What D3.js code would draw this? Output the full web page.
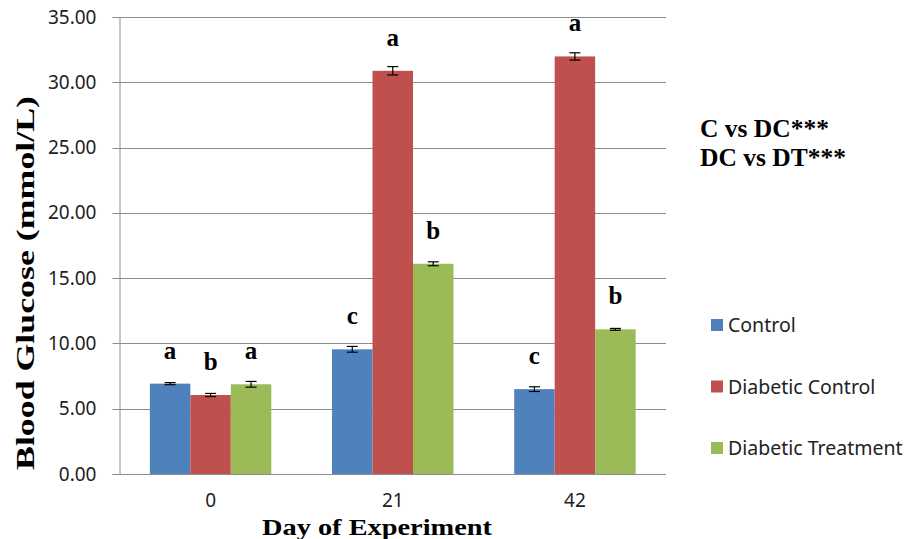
<!DOCTYPE html>
<html><head><meta charset="utf-8">
<script src="https://cdn.jsdelivr.net/npm/d3@7"></script>
<style>body{margin:0;background:#fff}svg{display:block}</style>
</head><body>
<svg id="chart" width="906" height="539"></svg>
<script>
const days = ["0", "21", "42"];
const seriesNames = ["Control", "Diabetic Control", "Diabetic Treatment"];
const colors = ["#4F81BD", "#C0504D", "#9BBB59"];
const controlVals = [6.92, 9.55, 6.50];
const diabeticControlVals = [6.05, 30.88, 31.98];
const diabeticTreatmentVals = [6.87, 16.10, 11.08];
const controlErr = [0.08, 0.22, 0.18];
const diabeticControlErr = [0.12, 0.32, 0.28];
const diabeticTreatmentErr = [0.22, 0.15, 0.07];
const controlLetters = ["a", "c", "c"];
const diabeticControlLetters = ["b", "a", "a"];
const diabeticTreatmentLetters = ["a", "b", "b"];
const yTicks = [0, 5, 10, 15, 20, 25, 30, 35];
const notes = ["C vs DC***", "DC vs DT***"];

const values = [controlVals, diabeticControlVals, diabeticTreatmentVals];
const errs = [controlErr, diabeticControlErr, diabeticTreatmentErr];
const letters = [controlLetters, diabeticControlLetters, diabeticTreatmentLetters];

const svg = d3.select("#chart");
const mLeft = 119.5, mRight = 666, mTop = 17, mBottom = 474;

const x0 = d3.scaleBand().domain(days).range([mLeft, mRight]).paddingInner(1/3).paddingOuter(1/6);
const x1 = d3.scaleBand().domain(seriesNames).range([0, x0.bandwidth()]);
const y = d3.scaleLinear().domain([0, 35]).range([mBottom, mTop]);

// gridlines
svg.append("g").selectAll("line").data(yTicks).join("line")
  .attr("x1", mLeft - 7).attr("x2", mRight)
  .attr("y1", d => Math.round(y(d)) + 0.5).attr("y2", d => Math.round(y(d)) + 0.5)
  .attr("stroke", "#8c8c8c").attr("stroke-width", 1);

// y axis
const yAxis = d3.axisLeft(y).tickValues(yTicks).tickFormat(d3.format(".2f")).tickSize(0).tickPadding(23);
const ga = svg.append("g").attr("transform", `translate(${mLeft},0)`).call(yAxis);
ga.select(".domain").attr("stroke", "#8c8c8c");
ga.selectAll("text").attr("font-family", "'Noto Sans', sans-serif").attr("font-size", 19).attr("fill", "#222");

// bars
const groups = svg.append("g").selectAll("g").data(days).join("g")
  .attr("transform", d => `translate(${x0(d)},0)`);

groups.each(function(day, di) {
  const g = d3.select(this);
  seriesNames.forEach((s, si) => {
    const v = values[si][di], e = errs[si][di];
    const bx = x1(s), bw = x1.bandwidth();
    g.append("rect").attr("x", bx).attr("width", bw)
      .attr("y", y(v)).attr("height", y(0) - y(v)).attr("fill", colors[si]);
    const cx = bx + bw / 2;
    g.append("line").attr("x1", cx).attr("x2", cx).attr("y1", y(v + e)).attr("y2", y(v - e))
      .attr("stroke", "#000").attr("stroke-width", 1.2);
    [v + e, v - e].forEach(t => g.append("line").attr("x1", cx - 5.5).attr("x2", cx + 5.5)
      .attr("y1", y(t)).attr("y2", y(t)).attr("stroke", "#000").attr("stroke-width", 1.2));
    g.append("text").attr("x", cx).attr("y", y(v) - 25).attr("text-anchor", "middle")
      .attr("font-family", "'Liberation Serif', serif").attr("font-weight", "bold")
      .attr("font-size", 25).attr("fill", "#000").text(letters[si][di]);
  });
});

// x axis baseline
svg.append("line").attr("x1", mLeft - 7).attr("x2", mRight).attr("y1", mBottom + 0.5).attr("y2", mBottom + 0.5)
  .attr("stroke", "#8c8c8c");
svg.append("g").selectAll("text").data(days).join("text")
  .attr("x", d => x0(d) + x0.bandwidth() / 2).attr("y", 507).attr("text-anchor", "middle")
  .attr("font-family", "'Noto Sans', sans-serif").attr("font-size", 19).attr("fill", "#222").text(d => d);

// axis titles
svg.append("text").attr("x", 377).attr("y", 535).attr("text-anchor", "middle")
  .attr("font-family", "'Liberation Serif', serif").attr("font-weight", "bold").attr("font-size", 23)
  .attr("textLength", 230).attr("lengthAdjust", "spacingAndGlyphs").text("Day of Experiment");
svg.append("text").attr("transform", "translate(34,283) rotate(-90)").attr("text-anchor", "middle")
  .attr("font-family", "'Liberation Serif', serif").attr("font-weight", "bold").attr("font-size", 26)
  .attr("textLength", 374).attr("lengthAdjust", "spacingAndGlyphs").text("Blood Glucose (mmol/L)");

// notes
svg.append("g").selectAll("text").data(notes).join("text")
  .attr("x", 700).attr("y", (d, i) => 137 + i * 29)
  .attr("font-family", "'Liberation Serif', serif").attr("font-weight", "bold").attr("font-size", 25.5)
  .attr("fill", "#000").text(d => d);

// legend
const leg = svg.append("g").selectAll("g").data(seriesNames).join("g")
  .attr("transform", (d, i) => `translate(711,${325 + i * 61.5})`);
leg.append("rect").attr("x", 0).attr("y", -6).attr("width", 12).attr("height", 12).attr("fill", (d, i) => colors[i]);
leg.append("text").attr("x", 17).attr("y", 7)
  .attr("font-family", "'Noto Sans', sans-serif").attr("font-size", 19.5).attr("fill", "#222").text(d => d);
</script>
</body></html>
